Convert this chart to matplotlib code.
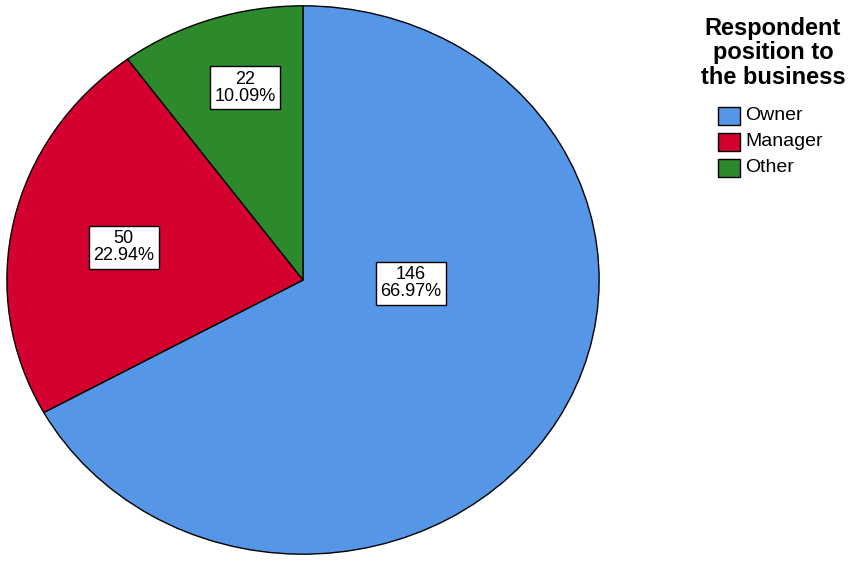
import matplotlib
matplotlib.use("Agg")
import matplotlib.pyplot as plt
from matplotlib.patches import Rectangle

plt.rcParams["font.family"] = ["Liberation Sans", "DejaVu Sans"]

# Data
categories = ["Owner", "Manager", "Other"]
counts = [146, 50, 22]
percents = [66.97, 22.94, 10.09]
colors = ["#5596E6", "#D4002F", "#2C8A2C"]
legend_title = "Respondent\nposition to\nthe business"

# label anchor points in pie data units (radius = 1)
label_pos = [(0.364, -0.011), (-0.606, 0.12), (-0.195, 0.702)]

fig = plt.figure(figsize=(8.57, 5.62), dpi=100)
W, H = 857, 562
# pie spans px x 6..600, y 5..555 (slightly elliptical)
ax = fig.add_axes([6 / W, (H - 555) / H, 594 / W, 550 / H])

wedges, _ = ax.pie(
    counts,
    colors=colors,
    startangle=90,
    counterclock=False,
    radius=1.0,
    wedgeprops=dict(edgecolor="black", linewidth=1.0),
)
ax.set_aspect("auto")
ax.set_xlim(-1.003, 1.003)
ax.set_ylim(-1.003, 1.003)
ax.axis("off")

for (x, y), n, p in zip(label_pos, counts, percents):
    ax.text(
        x, y, f"{n}\n{p:.2f}%",
        ha="center", va="center", fontsize=13, linespacing=1.0,
        bbox=dict(boxstyle="square,pad=0.25", facecolor="white", edgecolor="black", linewidth=1.0),
    )

# legend drawn by hand (pixel positions -> figure fractions)
fig.text(773 / W, 1 - 53 / H, legend_title, ha="center", va="center",
         fontsize=17, fontweight="bold", linespacing=1.1, multialignment="center")

for i, (name, c) in enumerate(zip(categories, colors)):
    yc = 116 + 26 * i
    fig.patches.append(Rectangle((718 / W, 1 - (yc + 9) / H), 22 / W, 18 / H,
                                 transform=fig.transFigure, facecolor=c,
                                 edgecolor="black", linewidth=1.0))
    fig.text(745 / W, 1 - yc / H, name, ha="left", va="center", fontsize=14)

fig.savefig("out.png", dpi=100)
